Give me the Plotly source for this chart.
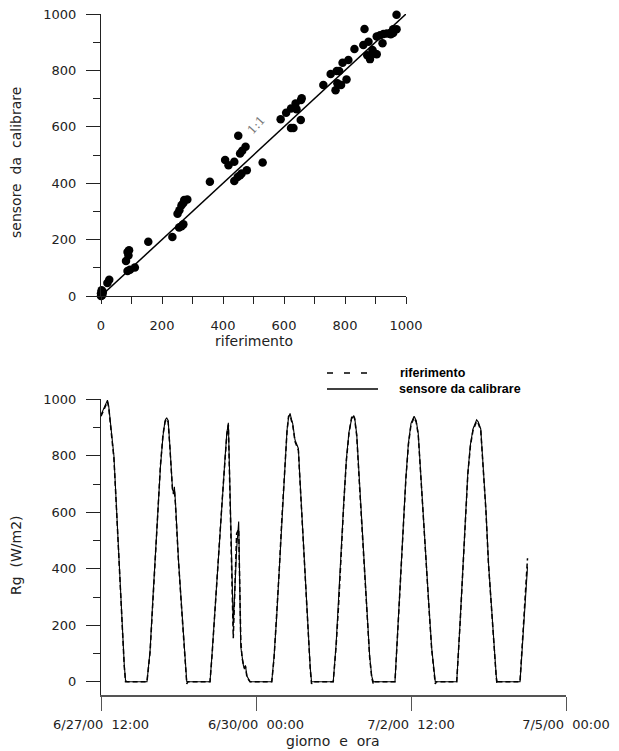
import pandas as pd
import plotly.graph_objects as go

# ---------------- data: scatter (top) ----------------
rif_pts = [-5, -3, 0, 2, 5, -1, 3, 0, 6,
           21, 27, 82, 87, 90, 92, 87, 95, 111, 155, 234,
           251, 257, 264, 270, 273, 283, 256, 264, 270, 357,
           407, 418, 437, 437, 448, 456, 461, 478, 450, 456, 463, 474, 530,
           589, 607, 623, 638, 641, 656, 658, 623, 631, 655,
           729, 753, 773, 781, 769, 775, 787, 792, 805, 811, 831,
           860, 864, 877, 873, 882, 890, 898, 904, 904, 915, 926, 937, 948, 958,
           923, 958, 969, 969, 950]
sens_pts = [0, 5, 10, 20, 8, 25, 2, 0, 15,
            46, 58, 124, 156, 144, 162, 89, 93, 101, 192, 209,
            292, 304, 322, 330, 340, 342, 243, 247, 254, 405,
            482, 464, 476, 408, 422, 428, 434, 446, 568, 505, 515, 529, 473,
            627, 650, 665, 683, 662, 695, 701, 596, 596, 624,
            748, 787, 798, 798, 730, 754, 748, 827, 768, 837, 876,
            890, 947, 902, 854, 840, 872, 860, 857, 920, 925, 929, 931, 931, 933,
            896, 946, 946, 997, 928]
line_11 = [0, 1000]

# ---------------- data: time series (bottom) ----------------
start = pd.Timestamp("2000-06-27 12:00")
hours = [0, 1, 2, 2.5, 3, 4, 5, 6, 7, 8, 9, 9.5, 10,
         17.8, 19, 20, 21, 22, 23, 24, 24.8, 25.4, 26, 26.7, 27.7, 28.1, 28.4, 28.8, 29.3, 30, 31.2, 32, 33.2, 33.6,
         42.2, 43, 44, 45, 46, 47, 48, 48.7, 49.3, 51.2, 52.5, 53.3, 54.1, 54.6, 55.1, 55.5, 55.9, 56.5, 57.7,
         66.1, 67, 68, 69, 70, 71, 72, 72.6, 73.2, 73.7, 74.2, 75.1, 76.4, 77, 78, 79, 80, 81, 81.5, 81.9,
         89.9, 91, 92, 93, 94, 95, 96, 97, 97.7, 98.2, 99, 100, 101, 102, 103, 104, 104.8, 105.4, 105.8,
         113.8, 115, 116, 117, 118, 119, 120, 121.2, 122, 122.8, 124, 125, 126, 127, 128, 129, 129.4, 129.8,
         137.7, 139, 140, 141, 142, 143, 144, 145.4, 146, 147, 148, 149, 150, 151, 152, 153, 153.3, 153.7,
         162.2, 163, 164, 165.1]
sensore = [945, 965, 990, 997, 975, 890, 800, 615, 425, 240, 60, 5, 0,
           0, 110, 280, 450, 610, 760, 870, 925, 935, 925, 830, 680, 670, 690, 640, 540, 430, 266, 150, 0, 0,
           0, 100, 230, 370, 510, 650, 790, 880, 917, 200, 470, 567, 124, 80, 59, 45, 58, 20, 0,
           0, 90, 230, 400, 580, 760, 890, 935, 950, 930, 915, 856, 826, 720, 555, 375, 190, 50, 0, 0,
           0, 130, 280, 470, 640, 790, 885, 930, 940, 935, 875, 710, 545, 380, 215, 90, 20, 0, 0,
           0, 205, 380, 555, 720, 845, 915, 940, 925, 880, 690, 535, 395, 260, 120, 25, 0, 0,
           0, 210, 395, 590, 740, 840, 895, 927, 920, 895, 770, 610, 420, 280, 130, 20, 0, 0,
           0, 110, 260, 407]
riferimento = [940, 960, 985, 992, 970, 880, 790, 610, 420, 235, 55, 0, 0,
               0, 105, 275, 445, 615, 765, 875, 920, 930, 920, 825, 675, 665, 680, 630, 530, 425, 260, 145, -8, 0,
               0, 95, 225, 375, 515, 655, 795, 875, 910, 154, 525, 540, 150, 85, 62, 50, 55, 15, 0,
               0, 85, 225, 395, 575, 755, 885, 940, 945, 925, 910, 850, 820, 715, 550, 370, 185, 45, -8, 0,
               0, 125, 275, 465, 635, 785, 880, 935, 945, 930, 870, 705, 540, 375, 210, 85, 15, -8, 0,
               0, 200, 375, 550, 715, 840, 910, 935, 920, 875, 685, 530, 390, 255, 115, 20, -8, 0,
               0, 205, 390, 585, 735, 835, 890, 922, 915, 890, 765, 605, 415, 275, 125, 15, -8, 0,
               0, 115, 265, 437]
time_ticks = ["2000-06-27 12:00", "2000-06-30 00:00", "2000-07-02 12:00", "2000-07-05 00:00"]
time_labels = ["6/27/00\u00a0 12:00", "6/30/00\u00a0 00:00", "7/2/00\u00a0 12:00", "7/5/00\u00a0 00:00"]

assert len(hours) == len(sensore) == len(riferimento)
assert len(rif_pts) == len(sens_pts)
times = [start + pd.Timedelta(hours=h) for h in hours]

W, H = 619, 751
def px(x):
    return x / W
def py(y):
    return 1 - y / H

FONT = "DejaVu Sans"
AX = "#222222"

fig = go.Figure()
fig.add_trace(go.Scatter(x=line_11, y=line_11, mode="lines",
                         line=dict(color="black", width=1.5), showlegend=False,
                         xaxis="x", yaxis="y", cliponaxis=False))
fig.add_trace(go.Scatter(x=rif_pts, y=sens_pts, mode="markers",
                         marker=dict(color="black", size=8.5), showlegend=False,
                         xaxis="x", yaxis="y", cliponaxis=False))
fig.add_trace(go.Scatter(x=times, y=riferimento, mode="lines",
                         line=dict(color="black", width=1.5, dash="5px,3px"),
                         showlegend=False, xaxis="x2", yaxis="y2"))
fig.add_trace(go.Scatter(x=times, y=sensore, mode="lines",
                         line=dict(color="black", width=1.1),
                         showlegend=False, xaxis="x2", yaxis="y2"))

tickfont = dict(family=FONT, size=13, color="#222")
fig.update_layout(
    width=W, height=H,
    margin=dict(l=0, r=0, t=0, b=0, autoexpand=False),
    paper_bgcolor="white", plot_bgcolor="white",
    font=dict(family=FONT, size=13, color="#222"),
    xaxis=dict(domain=[px(101), px(406)], range=[0, 1000], anchor="y", automargin=False,
               showline=True, linecolor=AX, linewidth=1, showgrid=False, zeroline=False,
               ticks="outside", ticklen=7, tickcolor=AX, dtick=200, tick0=0,
               minor=dict(ticks="outside", ticklen=7, dtick=100, tickcolor=AX, showgrid=False),
               tickfont=tickfont, ticklabelstandoff=10),
    yaxis=dict(domain=[py(296), py(14)], range=[0, 1000], anchor="x", automargin=False,
               showline=True, linecolor=AX, linewidth=1, showgrid=False, zeroline=False,
               ticks="outside", ticklen=14, tickcolor=AX, dtick=200, tick0=0,
               minor=dict(ticks="outside", ticklen=7, dtick=100, tickcolor=AX, showgrid=False),
               tickfont=tickfont, ticklabelstandoff=7),
    xaxis2=dict(domain=[px(101), px(566)], type="date", automargin=False,
                range=[time_ticks[0], time_ticks[-1]], anchor="y2",
                showline=True, linecolor="#555", linewidth=1.5, showgrid=False, zeroline=False,
                ticks="outside", ticklen=14, tickcolor="#555", tickwidth=1.3,
                tickmode="array", tickvals=time_ticks, ticktext=time_labels,
                tickfont=tickfont, ticklabelstandoff=3),
    yaxis2=dict(domain=[py(695), py(399.3)], range=[-47, 1000], anchor="x2", automargin=False,
                showline=True, linecolor=AX, linewidth=1, showgrid=False, zeroline=False,
                ticks="outside", ticklen=14, tickcolor=AX, dtick=200, tick0=0,
                minor=dict(ticks="outside", ticklen=7, dtick=100, tickcolor=AX, showgrid=False),
                tickfont=tickfont, ticklabelstandoff=7),
)

ann = [
    dict(text="sensore\u00a0 da\u00a0 calibrare", x=px(16), y=py(163), textangle=-90,
         font=dict(family=FONT, size=14, color="#222")),
    dict(text="riferimento", x=px(254), y=py(341), font=dict(family=FONT, size=14, color="#222")),
    dict(text="Rg\u00a0 (W/m2)", x=px(16), y=py(555), textangle=-90,
         font=dict(family=FONT, size=14, color="#222")),
    dict(text="giorno\u00a0 e\u00a0 ora", x=px(333), y=py(741), font=dict(family=FONT, size=14, color="#222")),
    dict(text="<b>riferimento</b>", x=px(398), y=py(373), xanchor="left",
         font=dict(family="Liberation Sans", size=12.5, color="black")),
    dict(text="<b>sensore da calibrare</b>", x=px(397), y=py(389), xanchor="left",
         font=dict(family="Liberation Sans", size=12.5, color="black")),
]
for a in ann:
    a.setdefault("xanchor", "center")
    a.update(xref="paper", yref="paper", yanchor="middle", showarrow=False)
fig.update_layout(annotations=ann)
fig.add_annotation(text="1:1", x=510, y=605, xref="x", yref="y", showarrow=False,
                   textangle=-48, font=dict(family="DejaVu Serif", size=12, color="#777"))

fig.add_shape(type="line", xref="paper", yref="paper", x0=px(327), x1=px(368), y0=py(373), y1=py(373),
              line=dict(color="black", width=1.5, dash="6px,11px"))
fig.add_shape(type="line", xref="paper", yref="paper", x0=px(327), x1=px(378), y0=py(389), y1=py(389),
              line=dict(color="black", width=1.3))

fig.write_html("out.html", config={"displayModeBar": False},
               post_script="document.body.style.margin='0px';document.body.style.overflow='hidden';")
